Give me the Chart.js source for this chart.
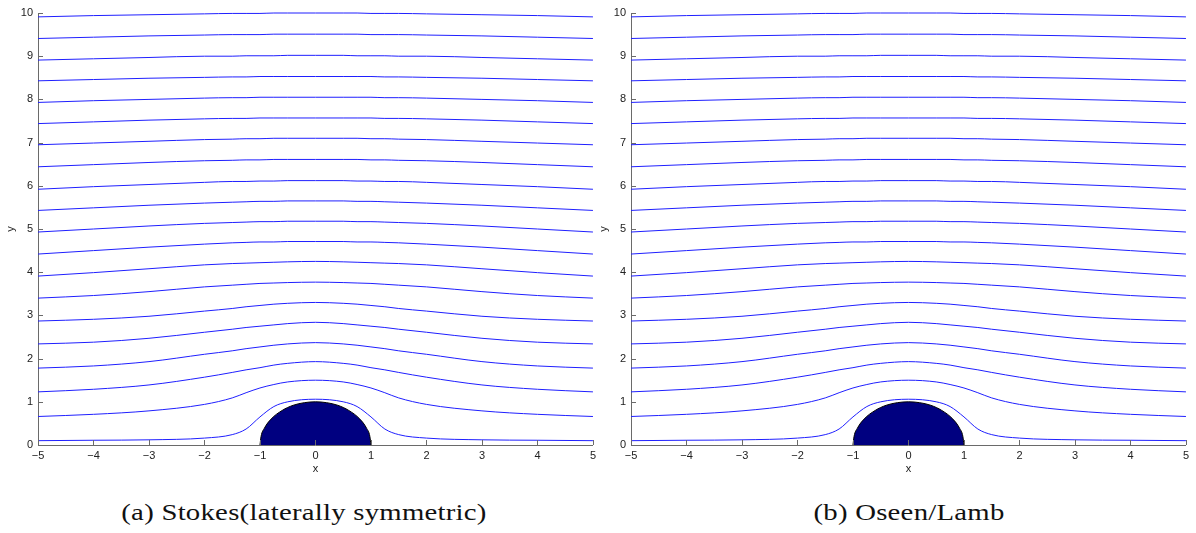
<!DOCTYPE html>
<html>
<head>
<meta charset="utf-8">
<script src="https://cdn.jsdelivr.net/npm/chart.js@4.4.1/dist/chart.umd.min.js"></script>
<style>
  body { margin: 0; background: #fff; width: 1196px; height: 533px; overflow: hidden; position: relative; }
  canvas { position: absolute; top: 0; }
  .caption { position: absolute; top: 500px; font-family: "Liberation Serif", serif; font-size: 23px; letter-spacing: 0.2px; color: #111; white-space: nowrap; transform: translateX(-50%) scaleX(1.25); }
</style>
</head>
<body>
<canvas id="stokesChart" width="600" height="480" style="left:0"></canvas>
<canvas id="oseenChart" width="600" height="480" style="left:593px"></canvas>
<div class="caption" style="left:304px">(a) Stokes(laterally symmetric)</div>
<div class="caption" style="left:909px">(b) Oseen/Lamb</div>
<script>
// sample positions along x shared by every streamline
const xSamples = [-5, -4, -3, -2, -1.5, -1.25, -1, -0.75, -0.5, 0, 0.5, 0.75, 1, 1.25, 1.5, 2, 3, 4, 5];

// streamline heights at xSamples, bottom to top
const stokesLines = [
  [0.10, 0.11, 0.12, 0.16, 0.24, 0.37, 0.65, 0.89, 1.00, 1.06, 1.00, 0.89, 0.65, 0.37, 0.24, 0.16, 0.12, 0.11, 0.10],
  [0.66, 0.71, 0.79, 0.94, 1.09, 1.21, 1.32, 1.40, 1.46, 1.50, 1.46, 1.40, 1.32, 1.21, 1.09, 0.94, 0.79, 0.71, 0.66],
  [1.23, 1.29, 1.39, 1.57, 1.68, 1.74, 1.79, 1.85, 1.89, 1.93, 1.89, 1.85, 1.79, 1.74, 1.68, 1.57, 1.39, 1.29, 1.23],
  [1.78, 1.83, 1.93, 2.10, 2.18, 2.23, 2.27, 2.31, 2.34, 2.37, 2.34, 2.31, 2.27, 2.23, 2.18, 2.10, 1.93, 1.83, 1.78],
  [2.34, 2.38, 2.47, 2.61, 2.68, 2.72, 2.75, 2.78, 2.81, 2.84, 2.81, 2.78, 2.75, 2.72, 2.68, 2.61, 2.47, 2.38, 2.34],
  [2.87, 2.91, 2.98, 3.10, 3.16, 3.20, 3.23, 3.26, 3.28, 3.30, 3.28, 3.26, 3.23, 3.20, 3.16, 3.10, 2.98, 2.91, 2.87],
  [3.40, 3.46, 3.55, 3.66, 3.70, 3.72, 3.74, 3.75, 3.76, 3.77, 3.76, 3.75, 3.74, 3.72, 3.70, 3.66, 3.55, 3.46, 3.40],
  [3.91, 3.99, 4.08, 4.17, 4.20, 4.21, 4.22, 4.23, 4.24, 4.25, 4.24, 4.23, 4.22, 4.21, 4.20, 4.17, 4.08, 3.99, 3.91],
  [4.42, 4.50, 4.58, 4.65, 4.68, 4.69, 4.70, 4.70, 4.71, 4.71, 4.71, 4.70, 4.70, 4.69, 4.68, 4.65, 4.58, 4.50, 4.42],
  [4.93, 5.00, 5.07, 5.13, 5.15, 5.16, 5.17, 5.17, 5.18, 5.18, 5.18, 5.17, 5.17, 5.16, 5.15, 5.13, 5.07, 5.00, 4.93],
  [5.43, 5.49, 5.55, 5.60, 5.62, 5.63, 5.64, 5.64, 5.65, 5.65, 5.65, 5.64, 5.64, 5.63, 5.62, 5.60, 5.55, 5.49, 5.43],
  [5.92, 5.98, 6.03, 6.08, 6.10, 6.10, 6.11, 6.11, 6.12, 6.12, 6.12, 6.11, 6.11, 6.10, 6.10, 6.08, 6.03, 5.98, 5.92],
  [6.44, 6.49, 6.54, 6.58, 6.59, 6.60, 6.60, 6.61, 6.61, 6.61, 6.61, 6.61, 6.60, 6.60, 6.59, 6.58, 6.54, 6.49, 6.44],
  [6.95, 6.99, 7.03, 7.07, 7.08, 7.09, 7.09, 7.10, 7.10, 7.10, 7.10, 7.10, 7.09, 7.09, 7.08, 7.07, 7.03, 6.99, 6.95],
  [7.44, 7.48, 7.52, 7.55, 7.56, 7.56, 7.57, 7.57, 7.57, 7.57, 7.57, 7.57, 7.57, 7.56, 7.56, 7.55, 7.52, 7.48, 7.44],
  [7.93, 7.97, 8.00, 8.03, 8.04, 8.04, 8.05, 8.05, 8.05, 8.05, 8.05, 8.05, 8.05, 8.04, 8.04, 8.03, 8.00, 7.97, 7.93],
  [8.43, 8.46, 8.49, 8.51, 8.52, 8.52, 8.53, 8.53, 8.53, 8.53, 8.53, 8.53, 8.53, 8.52, 8.52, 8.51, 8.49, 8.46, 8.43],
  [8.91, 8.94, 8.97, 9.00, 9.00, 9.01, 9.01, 9.01, 9.02, 9.02, 9.02, 9.01, 9.01, 9.01, 9.00, 9.00, 8.97, 8.94, 8.91],
  [9.41, 9.44, 9.47, 9.49, 9.50, 9.50, 9.50, 9.51, 9.51, 9.51, 9.51, 9.51, 9.50, 9.50, 9.50, 9.49, 9.47, 9.44, 9.41],
  [9.91, 9.94, 9.96, 9.98, 9.99, 9.99, 9.99, 10.0, 10.0, 10.0, 10.0, 10.0, 9.99, 9.99, 9.99, 9.98, 9.96, 9.94, 9.91],
];
// the Oseen/Lamb streamlines coincide with the Stokes ones at plot scale
const oseenLines = stokesLines;

// outline of the cylinder (upper half)
const cylinderX = [-1, -0.98, -0.92, -0.8, -0.6, -0.4, -0.2, 0, 0.2, 0.4, 0.6, 0.8, 0.92, 0.98, 1];
const cylinderY = [0, 0.2, 0.39, 0.6, 0.8, 0.92, 0.98, 1, 0.98, 0.92, 0.8, 0.6, 0.39, 0.2, 0];

const xTicks = [-5, -4, -3, -2, -1, 0, 1, 2, 3, 4, 5];
const yTicks = [0, 1, 2, 3, 4, 5, 6, 7, 8, 9, 10];

const lineColor = "#1f1fff";
const cylinderColor = "#000080";
const axisColor = "#6a6a6a";
const tickFont = { family: "Liberation Sans", size: 11 };

// matlab style ticks pointing into the plot
const innerTicks = {
  id: "innerTicks",
  afterDraw(chart) {
    const ctx = chart.ctx;
    const xs = chart.scales.x;
    const ys = chart.scales.y;
    const area = chart.chartArea;
    ctx.save();
    ctx.strokeStyle = axisColor;
    ctx.lineWidth = 1;
    ctx.beginPath();
    xs.ticks.forEach((t) => {
      const px = Math.round(xs.getPixelForValue(t.value)) + 0.5;
      ctx.moveTo(px, area.bottom);
      ctx.lineTo(px, area.bottom - 5);
    });
    ys.ticks.forEach((t) => {
      const py = Math.round(ys.getPixelForValue(t.value)) + 0.5;
      ctx.moveTo(area.left, py);
      ctx.lineTo(area.left + 5, py);
    });
    ctx.stroke();
    ctx.restore();
  },
};

const minus = (v) => String(v).replace("-", "\u2212");

const drawPanel = (canvasID, lines) => {
  const datasets = [
    {
      data: cylinderX.map((x, i) => ({ x: x, y: cylinderY[i] })),
      borderColor: "#000000",
      borderWidth: 1,
      backgroundColor: cylinderColor,
      fill: "origin",
      cubicInterpolationMode: "monotone",
      pointRadius: 0,
    },
  ];
  lines.forEach((line) => {
    datasets.push({
      data: xSamples.map((x, i) => ({ x: x, y: line[i] })),
      borderColor: lineColor,
      borderWidth: 1,
      fill: false,
      cubicInterpolationMode: "monotone",
      pointRadius: 0,
      clip: false,
    });
  });

  new Chart(document.getElementById(canvasID), {
    type: "line",
    data: { datasets: datasets },
    options: {
      responsive: false,
      animation: false,
      devicePixelRatio: 1,
      layout: { padding: { top: 13, right: 5, left: 0, bottom: 0 } },
      plugins: { legend: { display: false }, tooltip: { enabled: false } },
      scales: {
        x: {
          type: "linear",
          min: -5,
          max: 5,
          afterBuildTicks: (s) => { s.ticks = xTicks.map((v) => ({ value: v })); },
          afterFit: (s) => { s.height = 35; },
          grid: { display: true, drawOnChartArea: false, drawTicks: false },
          border: { display: true, color: axisColor, width: 1 },
          ticks: { color: "#222", font: tickFont, padding: 4, callback: minus },
          title: { display: true, text: "x", color: "#222", font: tickFont, padding: { top: 2, bottom: 4 } },
        },
        y: {
          type: "linear",
          min: 0,
          max: 10,
          afterBuildTicks: (s) => { s.ticks = yTicks.map((v) => ({ value: v })); },
          afterFit: (s) => { s.width = 38; },
          grid: { display: true, drawOnChartArea: false, drawTicks: false },
          border: { display: true, color: axisColor, width: 1 },
          ticks: { color: "#222", font: tickFont, padding: 5 },
          title: { display: true, text: "y", color: "#222", font: tickFont, padding: { top: 4, bottom: 2 } },
        },
      },
    },
    plugins: [innerTicks],
  });
};

drawPanel("stokesChart", stokesLines);
drawPanel("oseenChart", oseenLines);
</script>
</body>
</html>
